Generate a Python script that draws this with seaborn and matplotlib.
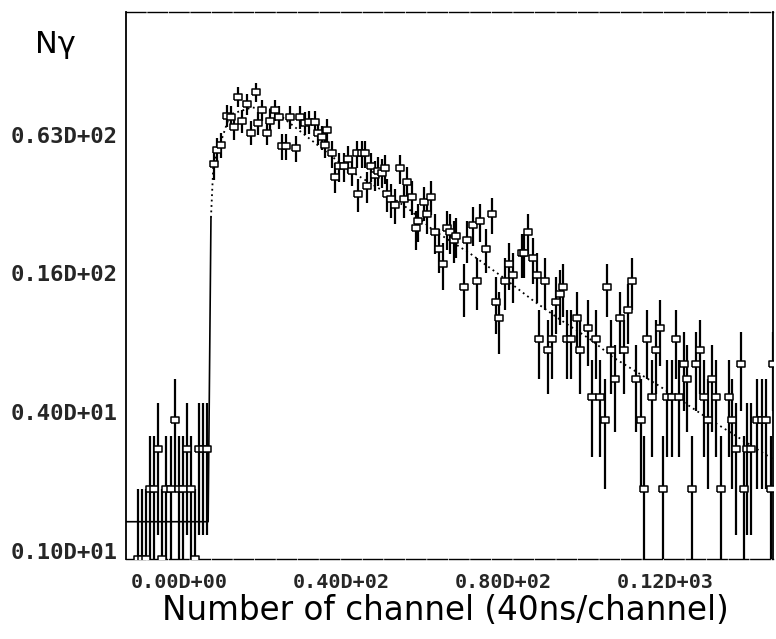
import matplotlib
matplotlib.use("Agg")
import matplotlib.pyplot as plt
import matplotlib.transforms as mtransforms
import numpy as np
import pandas as pd
import seaborn as sns

# ---- data ----
pre_channel = [3, 4, 5, 6, 7, 8, 9, 10, 11, 12, 13, 14, 15, 16, 17, 18, 19, 20]
pre_counts = [1, 1, 1, 2, 2, 3, 1, 2, 2, 4, 2, 2, 3, 2, 1, 3, 3, 3]

channel = [21.7, 22.5, 23.5, 24.9, 25.9, 26.7, 27.7, 28.6, 29.9, 30.9, 32.1, 32.6, 33.6, 34.8,
           35.6, 36.8, 37.8, 38.5, 39.5, 40.5, 42.0, 43.0, 44.2, 45.2, 46.7, 47.4, 48.4, 49.1,
           49.6, 50.9, 51.6, 52.6, 53.8, 54.8, 55.8, 57.0, 57.3, 58.3, 59.0, 59.5, 60.5, 61.5,
           62.2, 63.2, 64.0, 64.4, 65.4, 66.4, 67.7, 68.6, 69.4, 70.6, 71.6, 72.3, 73.6, 74.3,
           75.3, 76.3, 77.3, 78.3, 79.3, 80.2, 81.0, 81.7, 83.5, 84.4, 85.7, 86.7, 87.4, 88.9,
           90.6, 91.4, 92.1, 93.6, 94.6, 95.6, 97.8, 98.5, 99.3, 100.5, 101.5, 102.0, 103.5,
           104.2, 105.2, 106.4, 107.2, 108.1, 108.9, 110.1, 111.4, 112.3, 114.1, 115.3, 116.3,
           117.3, 118.3, 119.0, 120.0, 121.0, 122.2, 123.2, 124.0, 125.2, 126.2, 127.2, 128.1,
           128.9, 130.1, 131.1, 132.1, 132.8, 133.8, 135.1, 136.0, 136.8, 138.0, 138.8, 140.0,
           141.0, 142.0, 143.0, 144.0, 144.9, 145.9, 147.2, 149.1, 149.9, 150.9, 152.1, 152.8,
           153.6, 154.6, 156.0, 157.3, 158.3, 159.5, 159.9]
counts = [51, 59, 62, 83, 82, 74, 100, 79, 93, 70, 105, 77, 88, 70,
          79, 88, 82, 61, 61, 82, 60, 82, 77, 78, 78, 70, 67, 62,
          72, 57, 45, 50, 50, 54, 48, 57, 38, 57, 57, 41, 50, 46,
          48, 47, 49, 38, 36, 34, 49, 36, 43, 37, 27, 29, 35, 31,
          37, 26, 22, 19, 27, 26, 24, 25, 15, 24, 28, 16, 29, 22,
          31, 13, 11, 16, 19, 17, 21, 21, 26, 20, 17, 9, 16,
          8, 9, 13, 14, 15, 9, 9, 11, 8, 10, 5, 9,
          5, 4, 15, 8, 6, 11, 8, 12, 16, 6, 4, 2,
          9, 5, 8, 10, 2, 5, 5, 9, 5, 7, 6, 2,
          7, 8, 5, 4, 6, 5, 2, 5, 4, 3, 7, 2,
          3, 3, 4, 4, 4, 2, 7]

# fitted curve
bg_channel = [0, 20.3, 21.0]
bg_value = [1.45, 1.45, 30]
fit_channel = [21.0, 21.6, 25.7, 31.1, 36.3, 43.5, 55.3, 62.7, 70.1, 75.8, 84.9, 93.1,
               100.5, 107.2, 115.3, 120.2, 131.9, 143.5, 153.3, 160]
fit_value = [30, 51, 84, 90, 88, 70, 48, 40, 32.5, 26.6, 21.1, 16.6,
             13.2, 10.9, 8.8, 7.5, 5.6, 4.1, 3.2, 2.7]

ytick_vals = [1, 4, 16, 63]
ytick_labels = ["0.10D+01", "0.40D+01", "0.16D+02", "0.63D+02"]
xtick_vals = [0, 40, 80, 120]
xtick_labels = ["0.00D+00", "0.40D+02", "0.80D+02", "0.12D+03"]

# ---- figure ----
sns.set_style("white")
plt.rcParams["font.family"] = ["DejaVu Sans"]

fig = plt.figure(figsize=(7.76, 6.39), dpi=100)
ax = fig.add_axes([0.1624, 0.1252, 0.834, 0.856])

df = pd.DataFrame({"channel": pre_channel + channel, "counts": pre_counts + counts})
err = np.sqrt(df["counts"].values)
lo = np.clip(df["counts"].values - err, 0.5, None)
hi = df["counts"].values + err
ax.vlines(df["channel"], lo, hi, color="black", lw=1.6, zorder=2)

rect = [(-1.5, -1), (1.5, -1), (1.5, 1), (-1.5, 1), (-1.5, -1)]
sns.scatterplot(data=df, x="channel", y="counts", marker=rect, s=32,
                facecolor="white", edgecolor="black", linewidth=1.1, ax=ax, zorder=3,
                legend=False)

sns.lineplot(x=bg_channel, y=bg_value, color="black", lw=1.2, ax=ax, sort=False,
             estimator=None, zorder=1)
sns.lineplot(x=fit_channel, y=fit_value, color="black", lw=1.3, ax=ax, sort=False,
             estimator=None, linestyle=(0, (1, 2)), zorder=1)

ax.set_yscale("log")
ax.set_ylim(1, 233)
ax.set_xlim(0, 160)
ax.minorticks_off()
ax.set_yticks(ytick_vals)
ax.set_yticklabels(ytick_labels, fontfamily="DejaVu Sans Mono", fontweight="bold",
                   fontsize=16, va="baseline")
ax.set_xticks(xtick_vals)
ax.set_xticklabels(xtick_labels, fontfamily="DejaVu Sans Mono", fontweight="bold",
                   fontsize=14.5, ha="left")
ax.tick_params(axis="y", direction="out", length=2, width=1, pad=4, color="black")
ax.tick_params(axis="x", direction="out", length=9, width=1, pad=1, color="black")
ax.set_xlabel("")
ax.set_ylabel("")

for side in ["left", "right"]:
    ax.spines[side].set_color("black")
    ax.spines[side].set_linewidth(1.3)
for side in ["top", "bottom"]:
    ax.spines[side].set_color("black")
    ax.spines[side].set_linewidth(1.0)
    ax.spines[side].set_linestyle((0, (14, 1.5)))

# x tick labels sit just right of their ticks
offset = mtransforms.ScaledTranslation(5 / 100, 0, fig.dpi_scale_trans)
for lab in ax.get_xticklabels():
    lab.set_transform(lab.get_transform() + offset)

fig.text(0.072, 0.93, "Nγ", fontsize=22, ha="center", va="center", color="black")
fig.text(0.574, 0.045, "Number of channel (40ns/channel)", fontsize=23.5,
         ha="center", va="center", color="black")

fig.savefig("out.png", dpi=100, facecolor="white")
